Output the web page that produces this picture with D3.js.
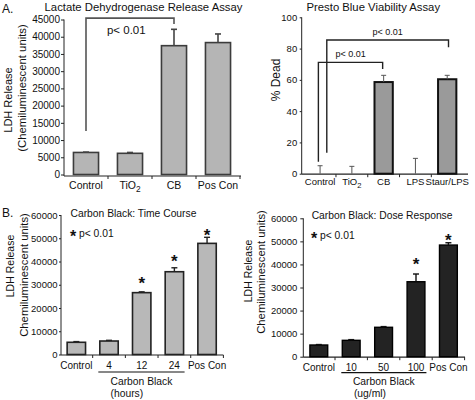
<!DOCTYPE html>
<html><head><meta charset="utf-8">
<script src="https://cdn.jsdelivr.net/npm/d3@7"></script>
<style>body{margin:0;background:#fff} svg{display:block;font-family:"Liberation Sans",Arial,sans-serif}</style>
</head><body><svg id="c" width="475" height="400"></svg>
<script>
// ---------- data ----------
const ldhCats = ["Control", "TiO2", "CB", "Pos Con"];
const ldhMean = [6400, 6150, 37400, 38300];
const ldhErr  = [100, 250, 4750, 2500];
const ldhTicks = [0, 5000, 10000, 15000, 20000, 25000, 30000, 35000, 40000, 45000];

const prestoCats = ["Control", "TiO2", "CB", "LPS", "Staur/LPS"];
const prestoMean = [0, 0, 58.6, 0, 60.4];
const prestoErr  = [5.1, 4.7, 4.3, 9.8, 2.5];
const prestoTicks = [0, 20, 40, 60, 80, 100];

const timeCats = ["Control", "4", "12", "24", "Pos Con"];
const timeMean = [5250, 5800, 26600, 35600, 47800];
const timeErr  = [300, 300, 350, 1700, 2600];
const timeStar = [null, null, 32000, 41500, 52400];
const timeTicks = [0, 10000, 20000, 30000, 40000, 50000, 60000];

const doseCats = ["Control", "10", "50", "100", "Pos Con"];
const doseMean = [5070, 7100, 12750, 32500, 48400];
const doseErr  = [200, 300, 300, 3350, 1000];
const doseStar = [null, null, null, 41200, 51800];
const doseTicks = [0, 10000, 20000, 30000, 40000, 50000, 60000];

// ---------- helpers ----------
const svg = d3.select("#c");
const FONT = '"Liberation Sans", Arial, sans-serif';

function catText(t, d, fs) {
  if (d === "TiO2") {
    t.text("TiO");
    t.append("tspan").attr("dy", fs * 0.3).attr("font-size", fs * 0.8).text("2");
  } else t.text(d);
}

function panel(o) {
  const g = svg.append("g");
  const y = d3.scaleLinear().domain(o.yDomain).range([o.yBase, o.yTop]);
  const xo = d3.scaleBand().domain(o.cats).range(o.xRange).padding(0);
  const xb = d3.scaleBand().domain(o.cats).range(o.xRange).paddingInner(o.pad).paddingOuter(o.pad / 2);
  const axisY = y(0) + o.xAxisOff;

  const ya = d3.axisLeft(y).tickValues(o.ticks).tickSize(o.tickSize).tickPadding(o.tickPad).tickFormat(d3.format("d"));
  const yg = g.append("g").attr("transform", `translate(${o.axisX},0)`).call(ya);
  yg.select(".domain").remove();
  yg.selectAll(".tick line").attr("stroke", o.axisColor);
  yg.selectAll(".tick text").attr("font-size", o.tickFs).attr("font-family", FONT).attr("fill", "#111");
  g.append("line").attr("x1", o.axisX).attr("x2", o.axisX)
    .attr("y1", y(o.yDomain[1])).attr("y2", axisY).attr("stroke", o.axisColor).attr("stroke-width", 1);

  g.append("line").attr("x1", o.axisX).attr("x2", o.xAxisEnd)
    .attr("y1", axisY).attr("y2", axisY).attr("stroke", o.axisColor).attr("stroke-width", 1.2);
  const bounds = o.cats.slice(1).map(c => xo(c));
  if (o.endTick) bounds.push(o.xRange[1]);
  g.selectAll(".xt").data(bounds).join("line")
    .attr("x1", d => d).attr("x2", d => d).attr("y1", axisY).attr("y2", axisY + 3)
    .attr("stroke", o.axisColor).attr("stroke-width", 1);
  g.selectAll(".xl").data(o.cats).join("text")
    .attr("x", d => xo(d) + xo.bandwidth() / 2).attr("y", o.labelY)
    .attr("text-anchor", "middle").attr("font-size", o.labelFs).attr("fill", "#111")
    .each(function (d) { catText(d3.select(this), d, o.labelFs); });

  const idx = o.mean.map((d, i) => i);
  g.selectAll(".bar").data(idx.filter(i => o.mean[i] > 0)).join("rect")
    .attr("x", i => xb(o.cats[i])).attr("width", xb.bandwidth())
    .attr("y", i => y(o.mean[i])).attr("height", i => y(0) - y(o.mean[i]))
    .attr("fill", o.fill).attr("stroke", o.stroke).attr("stroke-width", o.strokeW);

  const cx = i => xb(o.cats[i]) + xb.bandwidth() / 2;
  const eg = g.append("g").attr("stroke", o.errColor).attr("stroke-width", o.errW);
  idx.forEach(i => {
    const top = y(o.mean[i] + o.err[i]);
    eg.append("line").attr("x1", cx(i)).attr("x2", cx(i)).attr("y1", y(o.mean[i])).attr("y2", top);
    eg.append("line").attr("x1", cx(i) - o.cap).attr("x2", cx(i) + o.cap).attr("y1", top).attr("y2", top);
  });

  if (o.star) {
    idx.filter(i => o.star[i] != null).forEach(i => {
      g.append("text").attr("x", cx(i)).attr("y", y(o.star[i]) + 8.5)
        .attr("text-anchor", "middle").attr("font-size", 17).attr("font-weight", "bold").attr("fill", "#111").text("*");
    });
  }
  return { g, y, xo, xb, cx };
}

function ylabel(x, yc, txt, fs) {
  svg.append("text").attr("transform", `translate(${x},${yc}) rotate(-90)`)
    .attr("text-anchor", "middle").attr("dy", "0.35em").attr("font-size", fs).attr("fill", "#111").text(txt);
}

function bracket(p, from, to, topV, leftV, rightV, dxL, dxR, label, fs, color, w, ldx, ldy) {
  const x1 = p.cx(p.xo.domain().indexOf(from)) + dxL;
  const x2 = p.cx(p.xo.domain().indexOf(to)) + dxR;
  const yt = p.y(topV);
  p.g.append("path")
    .attr("d", `M${x1},${p.y(leftV)}V${yt}H${x2}V${p.y(rightV)}`)
    .attr("fill", "none").attr("stroke", color).attr("stroke-width", w);
  p.g.append("text").attr("x", (x1 + x2) / 2 + ldx).attr("y", yt + ldy)
    .attr("text-anchor", "middle").attr("font-size", fs).attr("fill", "#111").text(label);
}

// ---------- Panel A: LDH ----------
const pA = panel({
  cats: ldhCats, mean: ldhMean, err: ldhErr, ticks: ldhTicks,
  yDomain: [0, 45000], yBase: 174.5, yTop: 19.5, xRange: [64, 240], pad: 0.43,
  axisX: 64, xAxisEnd: 241, xAxisOff: 1.5, endTick: true,
  tickSize: 3, tickPad: 1, tickFs: 10, labelY: 189, labelFs: 10.5,
  fill: "#b5b5b5", stroke: "#3c3c3c", strokeW: 1.6, errColor: "#444", errW: 1.6, cap: 3,
  axisColor: "#222"
});
bracket(pA, "Control", "CB", 45400, 12600, 43700, 0, 0, "p< 0.01", 11.5, "#555", 1.6, -3.7, 15.5);
ylabel(8, 100, "LDH Release", 11);
ylabel(22, 88, "(Chemiluminescent units)", 11.3);
svg.append("text").attr("x", 143.5).attr("y", 11).attr("text-anchor", "middle").attr("font-size", 11.3).attr("fill", "#111")
  .text("Lactate Dehydrogenase Release Assay");
svg.append("text").attr("x", 2).attr("y", 13).attr("font-size", 12).attr("fill", "#111").text("A.");

// ---------- Panel A: Presto Blue ----------
const pP = panel({
  cats: prestoCats, mean: prestoMean, err: prestoErr, ticks: prestoTicks,
  yDomain: [0, 100], yBase: 173.7, yTop: 17.3, xRange: [304.2, 463.1], pad: 0.424,
  axisX: 301.7, xAxisEnd: 468, xAxisOff: 0.5, endTick: false,
  tickSize: 2, tickPad: 2.5, tickFs: 9.5, labelY: 185, labelFs: 9.5,
  fill: "#9a9a9a", stroke: "#111", strokeW: 2, errColor: "#555", errW: 1, cap: 2.5,
  axisColor: "#222"
});
bracket(pP, "Control", "CB", 71.2, 7.7, 66.9, -1.7, -1, "p< 0.01", 9, "#222", 1.4, 0, -5);
bracket(pP, "Control", "Staur/LPS", 85.5, 13.4, 80.8, 6.7, 1.3, "p< 0.01", 9, "#222", 1.4, 0, -5);
ylabel(276, 80, "% Dead", 12);
svg.append("text").attr("x", 373.3).attr("y", 11).attr("text-anchor", "middle").attr("font-size", 11.3).attr("fill", "#111")
  .text("Presto Blue Viability Assay");

// ---------- Panel B: Time course ----------
const pT = panel({
  cats: timeCats, mean: timeMean, err: timeErr, ticks: timeTicks, star: timeStar,
  yDomain: [0, 60000], yBase: 354.5, yTop: 215, xRange: [60, 223.4], pad: 0.437,
  axisX: 61, xAxisEnd: 223.4, xAxisOff: 0.5, endTick: true,
  tickSize: 2, tickPad: 1.5, tickFs: 9.5, labelY: 369, labelFs: 10,
  fill: "#b8b8b8", stroke: "#222", strokeW: 1.6, errColor: "#222", errW: 1.4, cap: 3,
  axisColor: "#222"
});
ylabel(10, 266, "LDH Release", 10.5);
ylabel(24, 275, "Chemiluminescent units)", 11.3);
svg.append("text").attr("x", 70.5).attr("y", 216.5).attr("font-size", 10.3).attr("fill", "#111").text("Carbon Black: Time Course");
svg.append("text").attr("x", 73).attr("y", 241.5).attr("text-anchor", "middle").attr("font-size", 16).attr("font-weight", "bold").attr("fill", "#111").text("*");
svg.append("text").attr("x", 79).attr("y", 237).attr("font-size", 10.3).attr("fill", "#111").text("p< 0.01");
svg.append("text").attr("x", 2).attr("y", 217).attr("font-size", 12).attr("fill", "#111").text("B.");
{
  const x1 = pT.xb("4") - 1.5, x2 = pT.xb("24") + pT.xb.bandwidth() + 1;
  pT.g.append("line").attr("x1", x1).attr("x2", x2).attr("y1", 372).attr("y2", 372).attr("stroke", "#111").attr("stroke-width", 1.2);
  const t = pT.g.append("text").attr("x", (x1 + x2) / 2).attr("y", 384.5).attr("text-anchor", "middle").attr("font-size", 10.3).attr("fill", "#111").text("Carbon Black");
  const w = t.node().getComputedTextLength();
  pT.g.append("text").attr("x", (x1 + x2) / 2 - w / 2).attr("y", 396.5).attr("font-size", 10.3).attr("fill", "#111").text("(hours)");
}

// ---------- Panel B: Dose response ----------
const pD = panel({
  cats: doseCats, mean: doseMean, err: doseErr, ticks: doseTicks, star: doseStar,
  yDomain: [0, 60000], yBase: 356.7, yTop: 218.3, xRange: [302.6, 464.6], pad: 0.45,
  axisX: 303.3, xAxisEnd: 465, xAxisOff: 0.5, endTick: true,
  tickSize: 3, tickPad: 3, tickFs: 9.5, labelY: 370.5, labelFs: 10,
  fill: "#232323", stroke: "#000", strokeW: 1.4, errColor: "#111", errW: 1.4, cap: 3,
  axisColor: "#222"
});
ylabel(248.3, 271, "LDH Release", 10.5);
ylabel(261, 272, "Chemiluminescent units)", 11.3);
svg.append("text").attr("x", 311.7).attr("y", 219.4).attr("font-size", 10.3).attr("fill", "#111").text("Carbon Black: Dose Response");
svg.append("text").attr("x", 314).attr("y", 244).attr("text-anchor", "middle").attr("font-size", 16).attr("font-weight", "bold").attr("fill", "#111").text("*");
svg.append("text").attr("x", 320).attr("y", 239.4).attr("font-size", 10.3).attr("fill", "#111").text("p< 0.01");
{
  const x1 = pD.xb("10") - 1, x2 = pD.xb("100") + pD.xb.bandwidth() + 1.5;
  pD.g.append("line").attr("x1", x1).attr("x2", x2).attr("y1", 372.7).attr("y2", 372.7).attr("stroke", "#111").attr("stroke-width", 1.2);
  const t = pD.g.append("text").attr("x", (x1 + x2) / 2).attr("y", 385).attr("text-anchor", "middle").attr("font-size", 10.3).attr("fill", "#111").text("Carbon Black");
  const w = t.node().getComputedTextLength();
  pD.g.append("text").attr("x", (x1 + x2) / 2 - w / 2 + 1).attr("y", 396.5).attr("font-size", 10.3).attr("fill", "#111").text("(ug/ml)");
}
</script></body></html>
